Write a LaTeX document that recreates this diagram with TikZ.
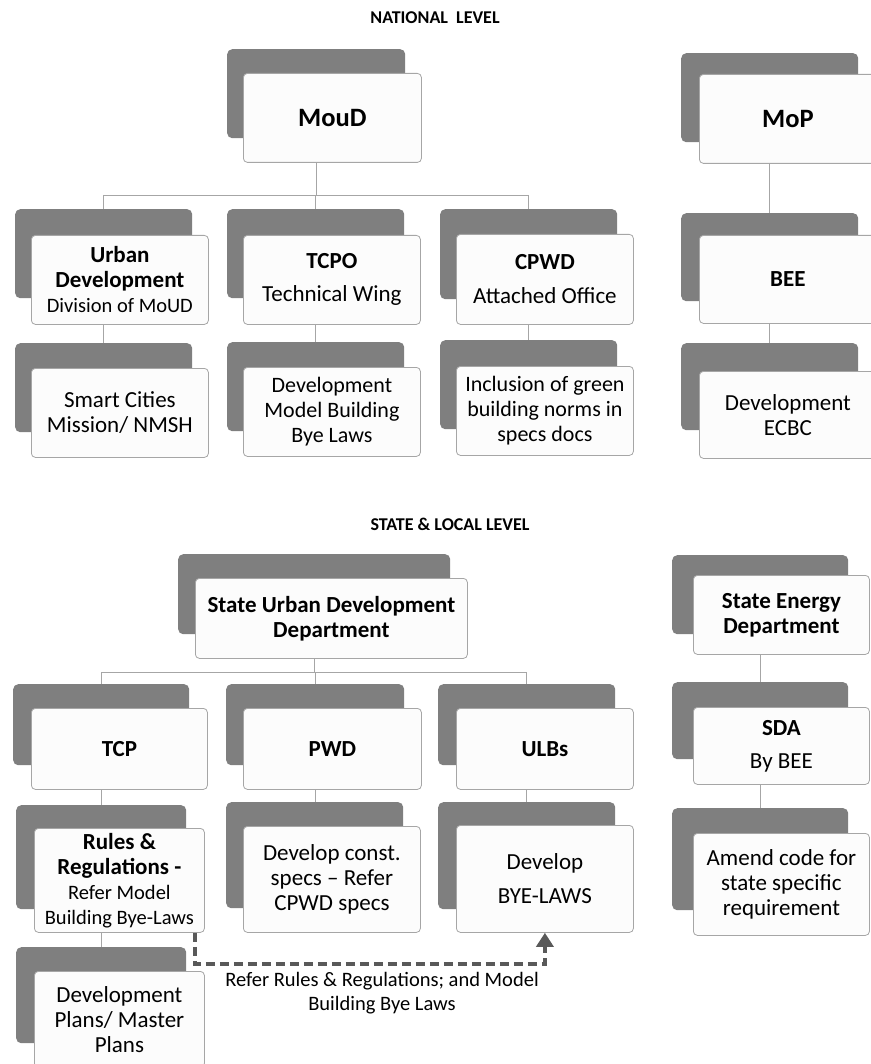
\documentclass[tikz,border=0pt]{standalone}
\usepackage{fontspec}
\setmainfont{Carlito}
\usetikzlibrary{arrows.meta}
\definecolor{shadeclr}{HTML}{7F7F7F}
\definecolor{edgeclr}{HTML}{A6A6A6}
\definecolor{dashclr}{HTML}{595959}
\definecolor{boxfill}{HTML}{FCFCFC}
\newcommand\fs[2]{\fontsize{#1}{#2}\selectfont}
\newcommand\obox[8]{%
  \node[shadowbox, minimum width=#6pt, minimum height=#7pt] (#1s) at (#2,#3) {};
  \node[whitebox, minimum width=#6pt, minimum height=#7pt] (#1) at (#4,#5) {#8};
}
\tikzset{
  shadowbox/.style={fill=shadeclr, rounded corners=5pt, anchor=north west, inner sep=0pt},
  whitebox/.style={fill=boxfill, draw=edgeclr, line width=0.8pt, rounded corners=4pt,
    anchor=north west, inner sep=0pt, align=center, font=\fs{23}{25}},
  conn/.style={draw=edgeclr, line width=0.8pt},
  dasharrow/.style={draw=dashclr, line width=3.4pt, dash pattern=on 9pt off 5pt,
    -{Triangle[width=17pt,length=14pt]}},
  heading/.style={font=\fs{18}{22}\bfseries},
}
\begin{document}
\begin{tikzpicture}[x=1pt,y=-1pt]
\useasboundingbox (0,0) rectangle (870,1064);

\node[heading] (nat) at (435,18) {NATIONAL\ \ LEVEL};
\node[heading] (st) at (450,524) {STATE \& LOCAL LEVEL};

% national level
\obox{moud}{227}{49}{243}{73}{178}{89}{{\fs{26.5}{30}\bfseries MouD}}
\obox{mop}{681}{53}{699}{74}{177}{89}{{\fs{26.5}{30}\bfseries MoP}}
\obox{urb}{15}{209}{31}{235}{177}{89}{{\bfseries Urban}\\{\bfseries Development}\\{\fs{20.5}{23}Division of MoUD}}
\obox{tcpo}{227}{209}{243}{235}{177}{89}{{\bfseries TCPO}\\[8pt]Technical Wing}
\obox{cpwd}{440}{209}{456}{234}{177}{90}{{\bfseries CPWD}\\[9pt]Attached Office}
\obox{bee}{681}{213}{699}{235}{177}{88}{{\bfseries BEE}}
\obox{smart}{15}{343}{31}{368}{177}{89}{Smart Cities\\Mission/ NMSH}
\obox{tcpoii}{227}{342}{243}{367}{177}{89}{{\fs{22}{23.5}Development}\\{\fs{22}{23.5}Model Building}\\{\fs{22}{23.5}Bye Laws}}
\obox{cpwdii}{440}{340}{456}{366}{177}{89}{{\fs{22}{23.5}Inclusion of green}\\{\fs{22}{23.5}building norms in}\\{\fs{22}{23.5}specs docs}}
\obox{ecbc}{681}{343}{699}{371}{177}{87}{Development\\ECBC}

% state level
\obox{sud}{178}{554}{195}{578}{272}{80}{{\bfseries State Urban Development}\\{\bfseries Department}}
\obox{sed}{672}{555}{693}{575}{176}{79}{{\bfseries State Energy}\\{\bfseries Department}}
\obox{tcp}{13}{684}{31}{708}{176}{81}{{\bfseries TCP}}
\obox{pwd}{226}{684}{243}{708}{178}{81}{{\bfseries PWD}}
\obox{ulb}{438}{684}{456}{708}{177}{81}{{\bfseries ULBs}}
\obox{sda}{672}{682}{693}{707}{176}{77}{{\bfseries SDA}\\[8pt]By BEE}
\obox{rules}{16}{805}{34}{828}{170}{104}{{\fs{23}{26}\bfseries Rules \&}\\{\fs{23}{26}\bfseries Regulations -}\\{\fs{20.5}{22.5}Refer Model}\\{\fs{20.5}{22.5}Building Bye-Laws}}
\obox{pwdii}{226}{802}{243}{826}{177}{106}{Develop const.\\specs -- Refer\\CPWD specs}
\obox{ulbii}{438}{802}{456}{825}{177}{107}{Develop\\[9pt]BYE-LAWS}
\obox{amend}{672}{808}{693}{833}{176}{102}{Amend code for\\state specific\\requirement}
\obox{plans}{16}{947}{34}{971}{170}{96}{Development\\Plans/ Master\\Plans}

% connectors national
\coordinate (nbus) at (0,195);
\draw[conn] (mouds.north |- moud.south) -- (mouds.north |- nbus);
\draw[conn] (urbs.north |- nbus) -- (cpwds.north |- nbus);
\draw[conn] (urbs.north |- nbus) -- (urbs.north);
\draw[conn] (tcpos.north |- nbus) -- (tcpos.north);
\draw[conn] (cpwds.north |- nbus) -- (cpwds.north);
\draw[conn] (mops.north |- mop.south) -- (mops.north |- bees.north);
\draw[conn] (urbs.north |- urb.south) -- (urbs.north |- smarts.north);
\draw[conn] (tcpos.north |- tcpo.south) -- (tcpos.north |- tcpoiis.north);
\draw[conn] (cpwds.north |- cpwd.south) -- (cpwds.north |- cpwdiis.north);
\draw[conn] (bees.north |- bee.south) -- (bees.north |- ecbcs.north);

% connectors state
\coordinate (sbus) at (0,672);
\draw[conn] (suds.north |- sud.south) -- (suds.north |- sbus);
\draw[conn] (tcps.north |- sbus) -- (ulbs.north |- sbus);
\draw[conn] (tcps.north |- sbus) -- (tcps.north);
\draw[conn] (pwds.north |- sbus) -- (pwds.north);
\draw[conn] (ulbs.north |- sbus) -- (ulbs.north);
\draw[conn] (seds.north |- sed.south) -- (seds.north |- sdas.north);
\draw[conn] (seds.north |- sda.south) -- (seds.north |- amends.north);
\draw[conn] (tcps.north |- tcp.south) -- (tcps.north |- ruless.north);
\draw[conn] (tcps.north |- rules.south) -- (tcps.north |- planss.north);
\draw[conn] (pwds.north |- pwd.south) -- (pwds.north |- pwdiis.north);
\draw[conn] (ulbs.north |- ulb.south) -- (ulbs.north |- ulbiis.north);

% dashed reference
\draw[dasharrow] ([xshift=-10pt]rules.south east) -- ++(0,31) -| (ulbii.south);
\node[align=center, font=\fs{20.5}{24}] (lbl) at (382,993)
  {Refer Rules \& Regulations; and Model\\Building Bye Laws};
\end{tikzpicture}
\end{document}
